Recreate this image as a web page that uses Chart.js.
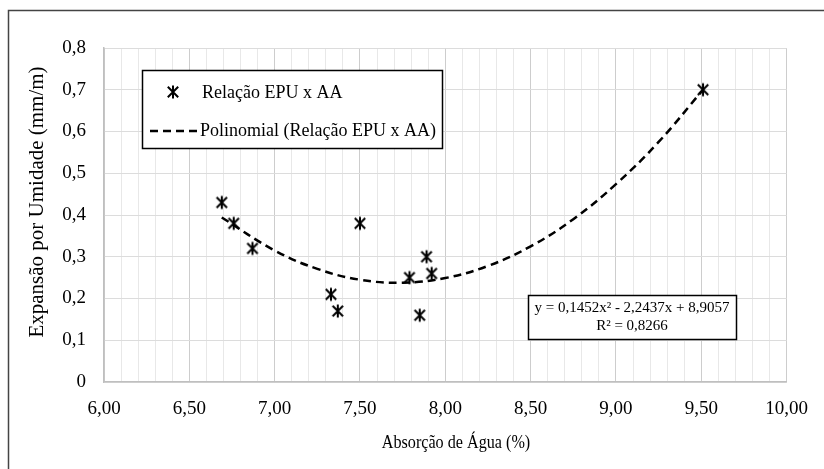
<!DOCTYPE html>
<html><head><meta charset="utf-8">
<script src="https://cdn.jsdelivr.net/npm/chart.js@4.4.0/dist/chart.umd.min.js"></script>
<style>html,body{margin:0;padding:0;background:#fff;}canvas{display:block;}</style>
</head><body>
<canvas id="c" width="824" height="469"></canvas>
<script>
// ---- data ----
const absorcao = [6.69, 6.76, 6.87, 7.33, 7.37, 7.50, 7.79, 7.85, 7.89, 7.92, 9.51];
const expansao = [0.43, 0.38, 0.32, 0.21, 0.17, 0.38, 0.25, 0.16, 0.30, 0.26, 0.70];
const trendX = [6.69, 7.00, 7.25, 7.50, 7.75, 8.00, 8.25, 8.50, 8.75, 9.00, 9.25, 9.51];
const trendY = [0.394, 0.315, 0.271, 0.245, 0.238, 0.249, 0.278, 0.325, 0.390, 0.474, 0.575, 0.700];
const xTickLabels = ['6,00','6,50','7,00','7,50','8,00','8,50','9,00','9,50','10,00'];
const yTickLabels = ['0','0,1','0,2','0,3','0,4','0,5','0,6','0,7','0,8'];
const seriesName = 'Relação EPU x AA';
const trendName = 'Polinomial (Relação EPU x AA)';
const equationLines = ['y = 0,1452x² - 2,2437x + 8,9057', 'R² = 0,8266'];
const xTitle = 'Absorção de Água (%)';
const yTitle = 'Expansão por Umidade (mm/m)';

const FONT = "'Liberation Serif', 'Times New Roman', serif";

// asterisk marker (X + vertical bar)
function makeStar(size){
  const c = document.createElement('canvas');
  c.width = size; c.height = size;
  const g = c.getContext('2d');
  const m = size/2, r = size/2 - 1.5;
  g.strokeStyle = '#000'; g.lineWidth = 2; g.lineCap = 'butt';
  g.beginPath();
  g.moveTo(m - r*0.8, m - r*0.8); g.lineTo(m + r*0.8, m + r*0.8);
  g.moveTo(m + r*0.8, m - r*0.8); g.lineTo(m - r*0.8, m + r*0.8);
  g.moveTo(m, m - r); g.lineTo(m, m + r);
  g.stroke();
  return c;
}
const star = makeStar(16);

const framePlugin = {
  id: 'frame',
  beforeDraw(chart){
    const ctx = chart.ctx;
    ctx.save();
    ctx.fillStyle = '#fff';
    ctx.fillRect(0,0,chart.width,chart.height);
    ctx.strokeStyle = '#444';
    ctx.lineWidth = 1.5;
    ctx.strokeRect(8.5, 10.5, 900, 600);
    ctx.restore();
  }
};

const boxesPlugin = {
  id: 'boxes',
  afterDraw(chart){
    const ctx = chart.ctx;
    ctx.save();
    // axis titles
    ctx.fillStyle = '#000';
    ctx.textBaseline = 'middle';
    ctx.textAlign = 'center';
    ctx.save();
    ctx.translate(456, 443);
    ctx.scale(0.85, 1);
    ctx.font = '19px ' + FONT;
    ctx.fillText(xTitle, 0, 0);
    ctx.restore();
    ctx.save();
    ctx.translate(37, 202);
    ctx.rotate(-Math.PI/2);
    ctx.font = '21px ' + FONT;
    ctx.fillText(yTitle, 0, 0);
    ctx.restore();
    // legend box
    ctx.fillStyle = '#fff';
    ctx.fillRect(142, 70, 301, 79);
    ctx.strokeStyle = '#000';
    ctx.lineWidth = 1.5;
    ctx.strokeRect(142.5, 70.5, 300, 78);
    ctx.drawImage(star, 173 - 8, 92 - 8);
    ctx.fillStyle = '#000';
    ctx.font = '18px ' + FONT;
    ctx.textBaseline = 'middle';
    ctx.textAlign = 'left';
    ctx.fillText(seriesName, 202, 93);
    ctx.setLineDash([8,5]);
    ctx.lineWidth = 2.5;
    ctx.beginPath(); ctx.moveTo(150, 131); ctx.lineTo(197, 131); ctx.stroke();
    ctx.setLineDash([]);
    ctx.fillText(trendName, 200, 131);
    // equation box
    ctx.fillStyle = '#fff';
    ctx.fillRect(528, 295, 209, 45);
    ctx.strokeStyle = '#000';
    ctx.lineWidth = 1.5;
    ctx.strokeRect(528.5, 295.5, 208, 44);
    ctx.fillStyle = '#000';
    ctx.font = '15px ' + FONT;
    ctx.textAlign = 'center';
    ctx.fillText(equationLines[0], 632, 308);
    ctx.fillText(equationLines[1], 632, 326);
    ctx.restore();
  }
};

new Chart(document.getElementById('c'), {
  type: 'scatter',
  data: {
    datasets: [
      {
        label: seriesName,
        data: absorcao.map((x,i)=>({x, y: expansao[i]})),
        pointStyle: star,
        pointRadius: 8,
        showLine: false,
        order: 0
      },
      {
        label: trendName,
        data: trendX.map((x,i)=>({x, y: trendY[i]})),
        showLine: true,
        borderColor: '#000',
        borderWidth: 2.5,
        borderDash: [8,5],
        pointRadius: 0,
        tension: 0.4,
        fill: false,
        order: 1
      }
    ]
  },
  options: {
    responsive: false,
    animation: false,
    devicePixelRatio: 1,
    layout: { padding: { left: 0, top: 48, right: 28, bottom: 0 } },
    plugins: { legend: { display: false }, tooltip: { enabled: false } },
    scales: {
      x: {
        type: 'linear', min: 6, max: 10,
        afterFit(s){ s.height = 87; },
        ticks: {
          stepSize: 0.1, autoSkip: false, maxRotation: 0, padding: 16,
          color: '#000', font: { family: FONT, size: 19 },
          callback: (v, i) => (i % 5 === 0 ? xTickLabels[i/5] : '')
        },
        grid: {
          drawTicks: false,
          color: c => (c.index % 5 === 0 ? '#cdcdcd' : '#e8e8e8'),
          lineWidth: 1
        },
        border: { color: '#bfbfbf', width: 1.5 },
        title: { display: false }
      },
      y: {
        min: 0, max: 0.8,
        afterFit(s){ s.width = 104; },
        ticks: {
          stepSize: 0.1, padding: 18,
          color: '#000', font: { family: FONT, size: 19 },
          callback: (v, i) => yTickLabels[i]
        },
        grid: { drawTicks: false, color: '#dcdcdc', lineWidth: 1 },
        border: { color: '#bfbfbf', width: 1.5 },
        title: { display: false }
      }
    }
  },
  plugins: [framePlugin, boxesPlugin]
});
</script>
</body></html>
